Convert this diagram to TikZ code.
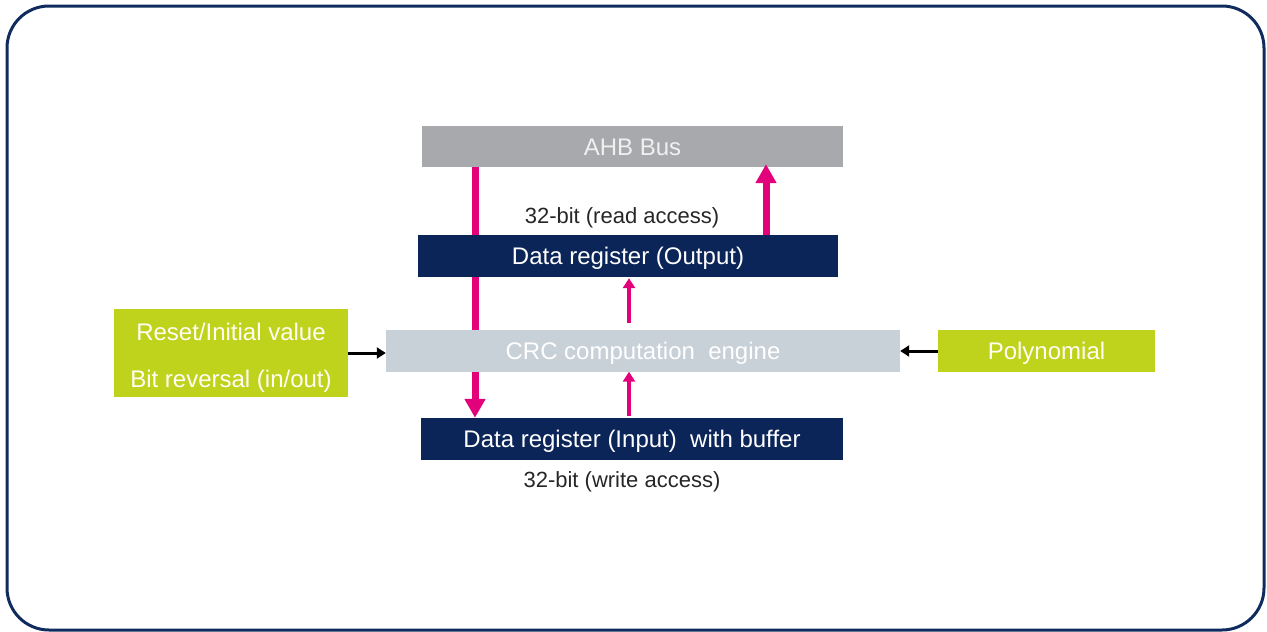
\documentclass[tikz,border=0pt]{standalone}
\usepackage{fontspec}
\setmainfont{Liberation Sans}
\usetikzlibrary{positioning, arrows.meta}
\definecolor{stframe}{HTML}{102C5E}
\definecolor{stgray}{HTML}{A7A9AC}
\definecolor{stnavy}{HTML}{0B2559}
\definecolor{stpale}{HTML}{C8D0D8}
\definecolor{stlime}{HTML}{BFD21C}
\definecolor{stpink}{HTML}{E2007B}
\pgfdeclarelayer{bg}
\pgfsetlayers{bg,main}
\tikzset{
  frame/.style={draw=stframe, line width=3pt, rounded corners=42pt},
  bus/.style={rectangle, inner sep=0pt, minimum width=421pt, minimum height=41pt, text height=18pt, text depth=1pt, fill=stgray, text=white!94!black},
  reg/.style={rectangle, inner sep=0pt, minimum width=421pt, minimum height=42pt, text height=18pt, text depth=1pt, fill=stnavy, text=white},
  engine/.style={rectangle, inner sep=0pt, minimum width=514pt, minimum height=42pt, text height=18pt, text depth=1pt, fill=stpale, text=white},
  cfg/.style={rectangle, inner sep=0pt, fill=stlime, text=white!96!yellow, align=center},
  lbl/.style={font=\fontsize{22}{26}\selectfont, text=black!85},
  wide/.style={draw=stpink, line width=7pt, -{Triangle[width=20pt,length=19pt]}},
  narrow/.style={draw=stpink, line width=4pt, -{Triangle[width=12pt,length=10pt]}},
  ctrl/.style={draw=black, line width=3pt, -{Triangle[width=11pt,length=9pt]}}
}
\begin{document}
\begin{tikzpicture}[x=1pt, y=-1pt,
    every node/.style={font=\fontsize{24}{28}\selectfont}
]
    \useasboundingbox (0,0) rectangle (1267,632);
    \draw[frame] (7,6) rectangle (1264,630);

    \node (ahb) [bus] at (632.5,146.5) {AHB Bus};
    \node (out) [reg, minimum width=420pt] at (628,256) {Data register (Output)};
    \node (crc) [engine] at (643,350.5) {CRC computation\ \ engine};
    \node (in) [reg, minimum width=422pt] at (632,439) {Data register (Input)\ \ with buffer};
    \node (reset) [cfg, minimum width=234pt, minimum height=88pt, text height=73pt, text depth=5pt, font=\fontsize{24}{47}\selectfont] at (231,353) {Reset/Initial value\\Bit reversal (in/out)};
    \node (poly) [cfg, minimum width=217pt, minimum height=42pt, text height=18pt, text depth=1pt] at (1046.5,351) {Polynomial};

    \node (readlbl) [lbl] at (622,218) {32-bit (read access)};
    \node (writelbl) [lbl] at (622,482) {32-bit (write access)};

    % write path runs behind the boxes
    \begin{pgfonlayer}{bg}
    \draw[wide] ([xshift=-157.5pt]ahb.south) -- ([xshift=-157.5pt]ahb.south |- in.north);
    \end{pgfonlayer}
    \draw[wide] ([xshift=138pt]out.north) -- ([xshift=138pt,yshift=3pt]out.north |- ahb.south);
    \draw[narrow, shorten <=6pt] ([xshift=-14pt]crc.north) -- ([xshift=-14pt,yshift=-1pt]crc.north |- out.south);
    \draw[narrow, shorten <=2pt] ([xshift=-3pt]in.north) -- ([xshift=-3pt]in.north |- crc.south);

    \draw[ctrl] (reset.east) -- (crc.west |- reset.east);
    \draw[ctrl] (poly.west) -- (crc.east |- poly.west);
\end{tikzpicture}
\end{document}
